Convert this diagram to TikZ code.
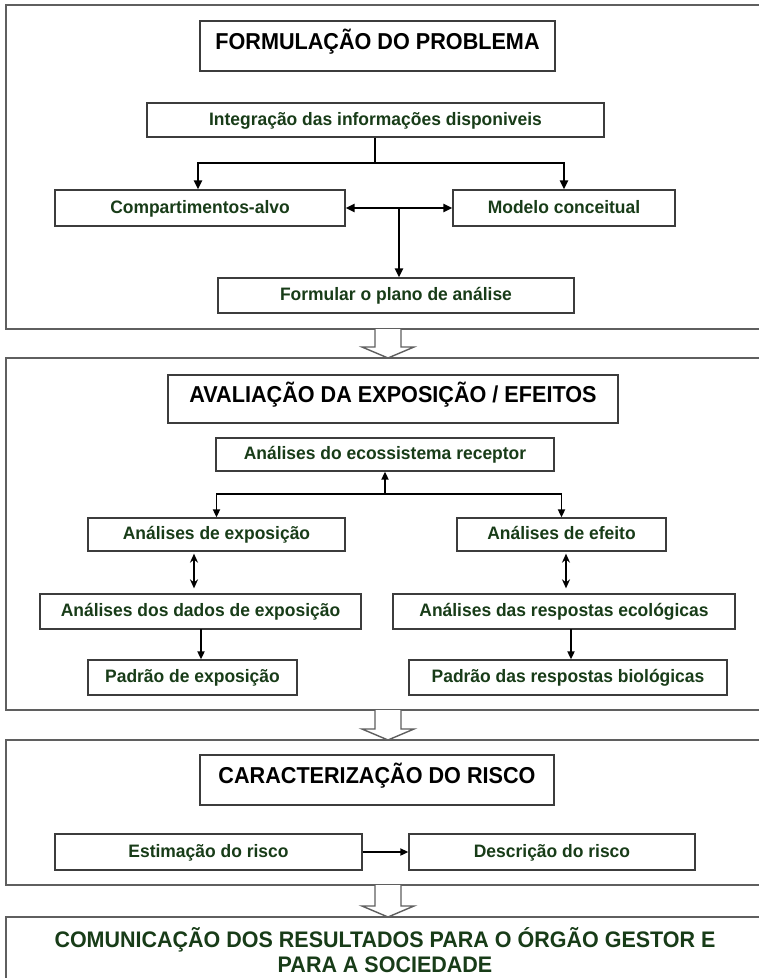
\documentclass[tikz,border=0pt]{standalone}
\usepackage{fontspec}
\setmainfont{Liberation Sans}
\newfontfamily\lblfont{Liberation Sans}[FakeStretch=0.97]
\newfontfamily\ttlfont{Liberation Sans}[FakeStretch=0.94]
\newfontfamily\comfont{Liberation Sans}[FakeStretch=0.955]
\usetikzlibrary{arrows.meta,calc}
\definecolor{lblgreen}{RGB}{24,60,24}
\definecolor{framegray}{RGB}{95,95,95}
\definecolor{boxgray}{RGB}{60,60,60}
\begin{document}
\begin{tikzpicture}[x=1pt,y=-1pt,
  frm/.style={draw=framegray, line width=1.6pt},
  box/.style={draw=boxgray, line width=1.3pt, fill=white, text=lblgreen, inner sep=0pt,
              text height=12pt, text depth=2pt,
              font=\lblfont\bfseries\fontsize{18}{21}\selectfont},
  ttl/.style={draw=boxgray, line width=1.6pt, fill=white, text=black, inner sep=0pt,
              text height=16pt, text depth=10pt,
              font=\ttlfont\bfseries\fontsize{23}{27}\selectfont},
  con/.style={line width=2.6pt, -{Triangle[length=9pt,width=8pt]}},
  conb/.style={line width=2.6pt, {Triangle[length=9pt,width=8pt]}-{Triangle[length=9pt,width=8pt]}},
  conm/.style={line width=1.8pt, -{Triangle[length=8pt,width=7pt]}},
  conmb/.style={line width=1.6pt, {Stealth[length=9pt,width=8pt,inset=3pt]}-{Stealth[length=9pt,width=8pt,inset=3pt]}},
  hollow/.style={draw=framegray, line width=1.4pt, fill=white, line join=miter}
]
\useasboundingbox (0,0) rectangle (759,978);
\begin{scope}
\clip (0,0) rectangle (759,978);
\fill[white] (0,0) rectangle (759,978);
% frames
\draw[frm] (6,5) rectangle (775,329);
\draw[frm] (6,358) rectangle (775,710);
\draw[frm] (6,740) rectangle (775,885);
\draw[frm] (6,917) rectangle (775,1000);

% hollow arrows between frames
\coordinate (h1) at (388,329);
\coordinate (h2) at (388,710);
\coordinate (h3) at (388,885);
\foreach \h/\d in {h1/29, h2/30, h3/32}{
  \draw[hollow] ($(\h)+(-13,0)$) -- ++(0,\d-11) -- ++(-13,0) -- ($(\h)+(0,\d)$)
     -- ($(\h)+(26,\d-11)$) -- ++(-13,0) -- ($(\h)+(13,0)$);
}

% ---- Section 1
\node[ttl, minimum width=355pt, minimum height=50pt] (t1) at (377.5,46) {FORMULAÇÃO DO PROBLEMA};
\node[box, minimum width=457pt, minimum height=34pt] (integ) at (375.5,120) {Integração das informações disponiveis};
\node[box, minimum width=290pt, minimum height=36pt] (comp) at (200,208) {Compartimentos-alvo};
\node[box, minimum width=222pt, minimum height=36pt] (mod) at (564,208) {Modelo conceitual};
\node[box, minimum width=356pt, minimum height=35pt] (form) at (396,295.5) {Formular o plano de análise};

\coordinate (j1) at (375,163);
\draw[line width=2.6pt] (integ.south -| j1) -- (j1);
\draw[con] (j1) -| ($(comp.north)+(-2,0)$);
\draw[con] (j1) -| (mod.north);
\draw[conb] (comp.east) -- (mod.west);
\coordinate (j2) at (399,208);
\draw[con] (j2) -- (j2 |- form.north);

% ---- Section 2
\node[ttl, minimum width=450pt, minimum height=48pt] (t2) at (393,399) {AVALIAÇÃO DA EXPOSIÇÃO / EFEITOS};
\node[box, minimum width=338pt, minimum height=33pt] (ecos) at (385,454.5) {Análises do ecossistema receptor};
\node[box, minimum width=257pt, minimum height=33pt] (anexp) at (216.5,534.5) {Análises de exposição};
\node[box, minimum width=209pt, minimum height=33pt] (anef) at (561.5,534.5) {Análises de efeito};
\node[box, minimum width=321pt, minimum height=35pt] (dados) at (200.5,611.5) {Análises dos dados de exposição};
\node[box, minimum width=342pt, minimum height=35pt] (resp) at (564,611.5) {Análises das respostas ecológicas};
\node[box, minimum width=209pt, minimum height=35pt] (padexp) at (192.5,677.5) {Padrão de exposição};
\node[box, minimum width=318pt, minimum height=35pt] (padbio) at (568,677.5) {Padrão das respostas biológicas};

\coordinate (j3) at (385,494);
\draw[conm] (j3) -- (ecos.south);
\draw[conm] (j3) -| (anexp.north);
\draw[conm] (j3) -| (anef.north);
\draw[conmb] ($(anexp.south)+(-22.5,2)$) -- ($(anexp.south |- dados.north)+(-22.5,-5)$);
\draw[conmb] ($(anef.south)+(4.5,2)$) -- ($(anef.south |- resp.north)+(4.5,-5)$);
\coordinate (j4) at (201,629);
\draw[conm] (j4) -- (j4 |- padexp.north);
\coordinate (j5) at (571,629);
\draw[conm] (j5) -- (j5 |- padbio.north);

% ---- Section 3
\node[ttl, minimum width=354pt, minimum height=50pt] (t3) at (377,780) {CARACTERIZAÇÃO DO RISCO};
\node[box, minimum width=307pt, minimum height=36pt] (estim) at (208.5,852) {Estimação do risco};
\node[box, minimum width=286pt, minimum height=36pt] (desc) at (552,852) {Descrição do risco};
\draw[conm] (estim.east) -- (desc.west);

% ---- Section 4
\node[text=lblgreen, font=\comfont\bfseries\fontsize{22.5}{25}\selectfont, align=center, inner sep=0pt] (com) at (385,950)
  {COMUNICAÇÃO DOS RESULTADOS PARA O ÓRGÃO GESTOR E\\PARA A SOCIEDADE};
\end{scope}
\end{tikzpicture}
\end{document}
